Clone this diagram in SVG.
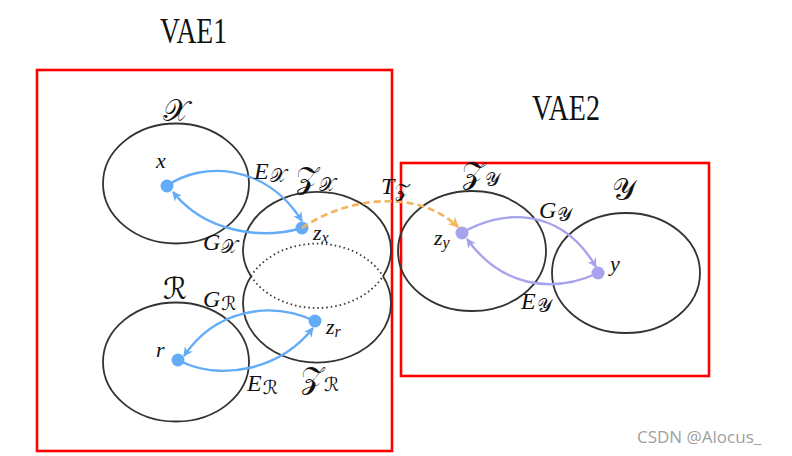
<svg xmlns="http://www.w3.org/2000/svg" width="792" height="456" viewBox="0 0 792 456">
<defs>
<style>
.box{fill:none;stroke:#ff0000;stroke-width:2.6}
.ell{fill:none;stroke:#333;stroke-width:1.8}
.dot{fill:none;stroke:#333;stroke-width:1.8;stroke-dasharray:1.5 3}
.ttl{font-family:"Liberation Serif",serif;font-size:36px;fill:#111}
.m{font-family:"Liberation Serif",serif;font-style:italic;font-size:24px;fill:#111}
.lc{font-size:22px}
.c{font-family:"DejaVu Sans","Noto Sans",serif;font-style:normal;font-size:30px;fill:#111}
.s{font-family:"DejaVu Sans","Noto Sans",serif;font-style:normal;font-size:19px}
.sm{font-size:16px}
.bl{fill:none;stroke:#62acf8;stroke-width:2.4}
.pu{fill:none;stroke:#a7a3ec;stroke-width:2.4}
.or{fill:none;stroke:#f2b45e;stroke-width:2.6;stroke-dasharray:7 4}
.wm{font-family:"Open Sans","Noto Sans",sans-serif;font-size:17px;fill:#a0a0a0}
</style>
<marker id="ab" viewBox="0 0 10 10" refX="9" refY="5" markerWidth="4" markerHeight="4" orient="auto"><path d="M0,0 L10,5 L0,10 L3,5 z" fill="#62acf8"/></marker>
<marker id="ap" viewBox="0 0 10 10" refX="9" refY="5" markerWidth="4" markerHeight="4" orient="auto"><path d="M0,0 L10,5 L0,10 L3,5 z" fill="#a7a3ec"/></marker>
<marker id="ao" viewBox="0 0 10 10" refX="9" refY="5" markerWidth="4" markerHeight="4" orient="auto"><path d="M0,0 L10,5 L0,10 L3,5 z" fill="#f2b45e"/></marker>
</defs>
<rect width="792" height="456" fill="#fff"/>
<g id="titles">
<text class="ttl" x="160" y="43" textLength="67" lengthAdjust="spacingAndGlyphs">VAE1</text>
<text class="ttl" x="532" y="120" textLength="68" lengthAdjust="spacingAndGlyphs">VAE2</text>
</g>
<g id="vae1"><rect class="box" x="37" y="70" width="355" height="381"/></g>
<g id="vae2"><rect class="box" x="401" y="163" width="308" height="213"/></g>
<g id="X">
<ellipse class="ell" cx="176" cy="183.5" rx="73" ry="60"/>
<text class="c" x="163" y="121">𝒳</text>
<circle cx="167" cy="186" r="6.5" fill="#62acf8"/>
<text class="m lc" x="156" y="168">x</text>
</g>
<g id="R">
<ellipse class="ell" cx="176" cy="362" rx="73" ry="59.5"/>
<text class="c" x="163" y="299">ℛ</text>
<circle cx="178" cy="360" r="6.5" fill="#62acf8"/>
<text class="m lc" x="156" y="357">r</text>
</g>
<g id="ZX">
<path class="ell" d="M251,276.2 A74,58 0 1 1 383,276.2"/>
<path class="dot" d="M251,276.2 A74,58 0 0 0 383,276.2"/>
<text class="c" x="296" y="188">𝒵<tspan class="s" dy="3">𝒳</tspan></text>
<circle cx="302" cy="228" r="6.5" fill="#62acf8"/>
<text class="m lc" x="313" y="240">z<tspan class="sm" dy="3">x</tspan></text>
</g>
<g id="ZR">
<path class="ell" d="M251,276.2 A74,59.5 0 1 0 383,276.2"/>
<path class="dot" d="M251,276.2 A74,59.5 0 0 1 383,276.2"/>
<text class="c" x="301" y="388">𝒵<tspan class="s" dy="3">ℛ</tspan></text>
<circle cx="315" cy="321" r="6.5" fill="#62acf8"/>
<text class="m lc" x="326" y="334">z<tspan class="sm" dy="3">r</tspan></text>
</g>
<g id="ZY">
<ellipse class="ell" cx="472" cy="251" rx="74" ry="60"/>
<text class="c" x="462" y="183">𝒵<tspan class="s" dy="3">𝒴</tspan></text>
<circle cx="462" cy="233" r="6.5" fill="#a7a3ec"/>
<text class="m lc" x="434" y="245">z<tspan class="sm" dy="3">y</tspan></text>
</g>
<g id="Y">
<ellipse class="ell" cx="626" cy="273" rx="74" ry="60"/>
<text class="c" x="612" y="200">𝒴</text>
<circle cx="598" cy="273" r="6.5" fill="#a7a3ec"/>
<text class="m lc" x="610" y="271">y</text>
</g>
<g id="connectors">
<path class="bl" d="M167,186 C200,162 265,162 302,221" marker-end="url(#ab)"/>
<path class="bl" d="M302,228 C260,240 205,232 173,192" marker-end="url(#ab)"/>
<path class="bl" d="M315,321 C270,300 215,310 184,356" marker-end="url(#ab)"/>
<path class="bl" d="M178,360 C220,382 280,370 313,328" marker-end="url(#ab)"/>
<path class="pu" d="M462,233 C500,210 560,205 596,267" marker-end="url(#ap)"/>
<path class="pu" d="M598,273 C550,295 500,285 467,239" marker-end="url(#ap)"/>
<path class="or" d="M302,228 C350,195 420,190 458,227" marker-end="url(#ao)"/>
<text class="m" x="254" y="179">E<tspan class="s" dx="1" dy="3">𝒳</tspan></text>
<text class="m" x="203" y="250">G<tspan class="s" dx="1" dy="3">𝒳</tspan></text>
<text class="m" x="381" y="194">T<tspan class="s" dx="1" dy="3">𝒵</tspan></text>
<text class="m" x="203" y="307">G<tspan class="s" dx="1" dy="3">ℛ</tspan></text>
<text class="m" x="247" y="391">E<tspan class="s" dx="1" dy="3">ℛ</tspan></text>
<text class="m" x="539" y="218">G<tspan class="s" dx="1" dy="3">𝒴</tspan></text>
<text class="m" x="521" y="309">E<tspan class="s" dx="1" dy="3">𝒴</tspan></text>
</g>
<text class="wm" x="637" y="443">CSDN @Alocus_</text>
</svg>
